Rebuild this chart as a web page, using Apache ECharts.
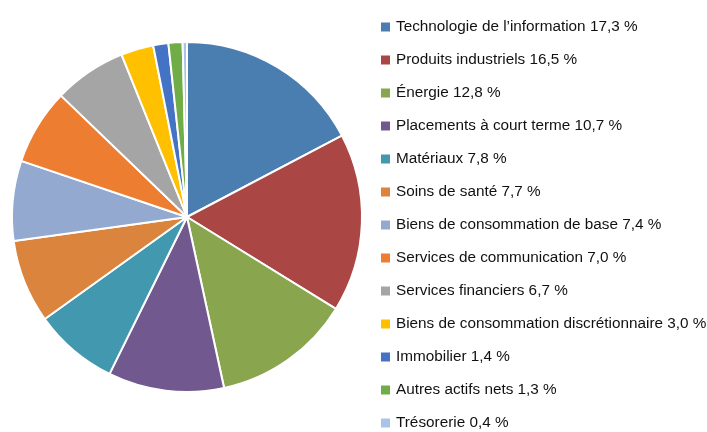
<!DOCTYPE html>
<html>
<head>
<meta charset="utf-8">
<script src="https://cdn.jsdelivr.net/npm/echarts@6/dist/echarts.min.js"></script>
<style>
  html, body { margin: 0; padding: 0; background: #fff; }
  #main { width: 707px; height: 432px; }
</style>
</head>
<body>
<div id="main"></div>
<script>
// secteurs et poids (%)
var sectors = [
  "Technologie de l\u2019information",
  "Produits industriels",
  "\u00c9nergie",
  "Placements \u00e0 court terme",
  "Mat\u00e9riaux",
  "Soins de sant\u00e9",
  "Biens de consommation de base",
  "Services de communication",
  "Services financiers",
  "Biens de consommation discr\u00e9tionnaire",
  "Immobilier",
  "Autres actifs nets",
  "Tr\u00e9sorerie"
];
var weights = [17.3, 16.5, 12.8, 10.7, 7.8, 7.7, 7.4, 7.0, 6.7, 3.0, 1.4, 1.3, 0.4];
var colors = ["#4a7eb0", "#aa4643", "#89a54e", "#71588f", "#4198af", "#db843d",
              "#93a9cf", "#ed7d31", "#a5a5a5", "#ffc000", "#4472c4", "#70ad47", "#a9c4e6"];

(function(){
  var myChart = echarts.init(document.getElementById("main"));

  var data = sectors.map(function(n, i){
    return { name: n, value: weights[i] };
  });
  var lookup = {};
  sectors.forEach(function(n, i){ lookup[n] = weights[i]; });

  var option = {
    animation: false,
    color: colors,
    legend: {
      orient: "vertical",
      left: 379,
      top: 18,
      height: 420,
      padding: 0,
      itemWidth: 11,
      itemHeight: 11,
      itemGap: 15,
      icon: "rect",
      selectedMode: false,
      textStyle: {
        fontFamily: "Liberation Sans, Arial, sans-serif",
        fontSize: 15.3,
        lineHeight: 18,
        color: "#111"
      },
      //名称后加百分比
      formatter: function(name){
        return name + " " + lookup[name].toFixed(1).replace(".", ",") + " %";
      },
      data: sectors
    },
    series: [
      {
        type: "pie",
        center: [187, 217],
        radius: 175,
        startAngle: 90,
        clockwise: true,
        label: { show: false },
        labelLine: { show: false },
        itemStyle: {
          borderColor: "#fff",
          borderWidth: 2
        },
        emphasis: { disabled: true },
        data: data
      }
    ]
  };

  myChart.setOption(option);
  window.addEventListener("resize", function(){
    myChart.resize();
  });
})();
</script>
</body>
</html>
